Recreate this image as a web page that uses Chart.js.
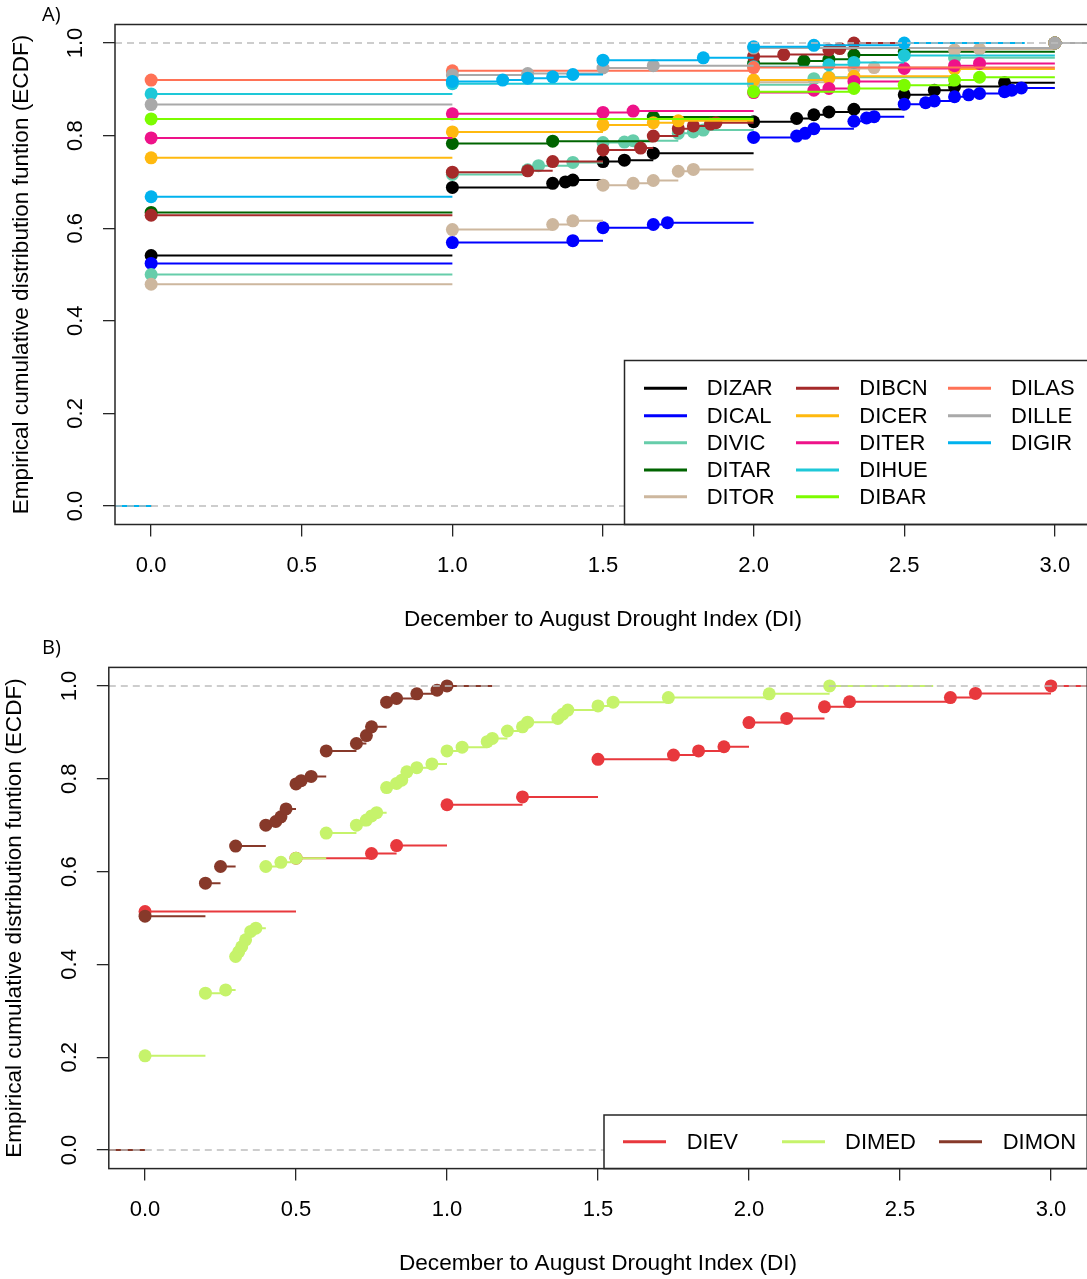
<!DOCTYPE html>
<html>
<head>
<meta charset="utf-8">
<script src="https://cdn.jsdelivr.net/npm/chart.js@4/dist/chart.umd.min.js"></script>
<style>
  html, body { margin: 0; padding: 0; background: #fff; overflow: hidden; }
  #wrap { width: 1087px; height: 1279px; overflow: hidden; }
  canvas { display: block; }
</style>
</head>
<body>
<div id="wrap">
  <canvas id="chartA" width="1100" height="640"></canvas>
  <canvas id="chartB" width="1100" height="639"></canvas>
</div>
<script>
// Axis ticks (shared by both panels)
const xTicks = [0, 0.5, 1, 1.5, 2, 2.5, 3];
const xTickLabels = ["0.0", "0.5", "1.0", "1.5", "2.0", "2.5", "3.0"];
const yTicks = [0, 0.2, 0.4, 0.6, 0.8, 1];
const yTickLabels = ["0.0", "0.2", "0.4", "0.6", "0.8", "1.0"];

// Panel A - stations
const namesA = ["DIZAR", "DICAL", "DIVIC", "DITAR", "DITOR", "DIBCN", "DICER",
  "DITER", "DIHUE", "DIBAR", "DILAS", "DILLE", "DIGIR"];
const colorsA = ["#000000", "#0000FF", "#66CDAA", "#006400", "#CDB79E", "#A52A2A", "#FFB90F",
  "#EE1289", "#1EC8D8", "#7CFC00", "#FF7256", "#A9A9A9", "#00B2EE"];

// jump points (DI value, ECDF value) of each station
const dizarX = [0, 1, 1.333, 1.375, 1.4, 1.5, 1.571, 1.667, 2, 2.143, 2.2, 2.25, 2.333, 2.5, 2.6, 2.667, 2.833, 3];
const dizarY = [0.541, 0.688, 0.697, 0.700, 0.704, 0.744, 0.747, 0.762, 0.830, 0.837, 0.845, 0.851, 0.857, 0.888, 0.898, 0.906, 0.914, 1];
const dicalX = [0, 1, 1.4, 1.5, 1.667, 1.714, 2, 2.143, 2.171, 2.2, 2.333, 2.375, 2.4, 2.5, 2.571, 2.6, 2.667, 2.714, 2.75, 2.833, 2.857, 2.889, 3];
const dicalY = [0.524, 0.569, 0.573, 0.601, 0.608, 0.612, 0.796, 0.799, 0.805, 0.815, 0.831, 0.838, 0.841, 0.868, 0.871, 0.875, 0.884, 0.888, 0.891, 0.895, 0.898, 0.903, 1];
const divicX = [0, 1, 1.25, 1.286, 1.4, 1.5, 1.571, 1.6, 1.75, 1.8, 1.833, 2, 2.2, 2.25, 2.667, 3];
const divicY = [0.500, 0.716, 0.726, 0.735, 0.742, 0.785, 0.786, 0.789, 0.805, 0.808, 0.812, 0.910, 0.923, 0.926, 0.968, 1];
const ditarX = [0, 1, 1.333, 1.667, 2, 2.167, 2.25, 2.333, 2.5, 3];
const ditarY = [0.634, 0.783, 0.788, 0.840, 0.956, 0.961, 0.965, 0.974, 0.981, 1];
const ditorX = [0, 1, 1.333, 1.4, 1.5, 1.6, 1.667, 1.75, 1.8, 2, 2.25, 2.333, 2.4, 2.667, 2.75, 3];
const ditorY = [0.479, 0.597, 0.608, 0.616, 0.693, 0.697, 0.703, 0.723, 0.727, 0.915, 0.924, 0.945, 0.947, 0.985, 0.987, 1];
const dibcnX = [0, 1, 1.25, 1.333, 1.5, 1.625, 1.667, 1.75, 1.8, 1.857, 1.875, 2, 2.1, 2.25, 2.286, 2.333];
const dibcnY = [0.628, 0.721, 0.724, 0.744, 0.769, 0.773, 0.799, 0.815, 0.821, 0.825, 0.828, 0.971, 0.975, 0.985, 0.988, 1];
const dicerX = [0, 1, 1.5, 1.667, 1.75, 2, 2.25, 2.333, 2.667, 3];
const dicerY = [0.752, 0.808, 0.823, 0.828, 0.832, 0.920, 0.925, 0.928, 0.944, 1];
const diterX = [0, 1, 1.5, 1.6, 2, 2.2, 2.25, 2.333, 2.5, 2.667, 2.75, 3];
const diterY = [0.795, 0.847, 0.850, 0.853, 0.893, 0.898, 0.902, 0.917, 0.945, 0.951, 0.956, 1];
const dihueX = [0, 1, 2, 2.25, 2.333, 2.5, 3];
const dihueY = [0.890, 0.912, 0.949, 0.953, 0.958, 0.973, 1];
const dibarX = [0, 2, 2.333, 2.5, 2.667, 2.75, 3];
const dibarY = [0.836, 0.895, 0.902, 0.909, 0.920, 0.926, 1];
const dilasX = [0, 1, 2, 3];
const dilasY = [0.920, 0.940, 0.947, 1];
const dilleX = [0, 1, 1.25, 1.5, 1.667, 2, 3];
const dilleY = [0.867, 0.931, 0.934, 0.946, 0.951, 0.989, 1];
const digirX = [0, 1, 1.167, 1.25, 1.333, 1.4, 1.5, 1.833, 2, 2.2, 2.5];
const digirY = [0.668, 0.917, 0.920, 0.924, 0.927, 0.932, 0.963, 0.968, 0.992, 0.995, 1];
// where the last (ECDF = 1) step of each station stops
const lastStepA = [3.12, 3.12, 3.12, 3.12, 3.12, 2.48, 3.12, 3.12, 3.12, 3.12, 3.12, 3.12, 2.9];

// Panel B - regions
const namesB = ["DIEV", "DIMED", "DIMON"];
const colorsB = ["#E8383D", "#C6F36B", "#87392A"];
const dievX = [0, 0.5, 0.75, 0.833, 1, 1.25, 1.5, 1.75, 1.833, 1.917, 2, 2.125, 2.25, 2.333, 2.667, 2.75, 3];
const dievY = [0.514, 0.629, 0.639, 0.656, 0.744, 0.761, 0.842, 0.851, 0.860, 0.869, 0.921, 0.930, 0.955, 0.966, 0.975, 0.984, 1];
const dimedX = [0, 0.2, 0.267, 0.3, 0.31, 0.32, 0.333, 0.35, 0.367, 0.4, 0.45, 0.5, 0.6, 0.7, 0.733, 0.75, 0.767,
  0.8, 0.833, 0.85, 0.867, 0.9, 0.95, 1, 1.05, 1.133, 1.15, 1.2, 1.25, 1.267, 1.367, 1.383, 1.4, 1.5, 1.55, 1.733, 2.067, 2.267];
const dimedY = [0.203, 0.338, 0.345, 0.417, 0.427, 0.438, 0.453, 0.471, 0.478, 0.611, 0.620, 0.629, 0.683, 0.700, 0.711, 0.720, 0.727,
  0.781, 0.790, 0.797, 0.815, 0.824, 0.832, 0.860, 0.868, 0.880, 0.887, 0.903, 0.912, 0.922, 0.930, 0.939, 0.948, 0.957, 0.965, 0.975, 0.983, 1];
const dimonX = [0, 0.2, 0.25, 0.3, 0.4, 0.433, 0.45, 0.467, 0.5, 0.517, 0.55, 0.6, 0.7, 0.733, 0.75, 0.8, 0.833, 0.9, 0.967, 1];
const dimonY = [0.504, 0.575, 0.611, 0.655, 0.700, 0.708, 0.718, 0.735, 0.789, 0.796, 0.805, 0.860, 0.876, 0.893, 0.912, 0.965, 0.973, 0.983, 0.991, 1];
const lastStepB = [3.12, 2.61, 1.15];

const xMin = -0.12, xMax = 3.12;
const frameColor = "#262626";
const fontFamily = '"Liberation Sans", Arial, sans-serif';

Chart.defaults.font.family = fontFamily;
Chart.defaults.color = "#000";

// horizontal ECDF segments, no verticals; points only on the jumps
const stepData = (xs, ys, xEnd) => {
  const pts = [{ x: xMin, y: 0 }, { x: xs[0], y: 0 }, { x: xs[0], y: null }];
  xs.forEach((x, i) => {
    const next = i < xs.length - 1 ? xs[i + 1] : xEnd;
    pts.push({ x: x, y: ys[i], pt: true }, { x: next, y: ys[i] }, { x: next, y: null });
  });
  return pts;
};

const makeDatasets = (names, colors, xsList, ysList, ends) => {
  const sets = [{
    label: "ref",
    data: [{ x: xMin, y: 0 }, { x: xMax, y: 0 }, { x: xMax, y: null }, { x: xMin, y: 1 }, { x: xMax, y: 1 }],
    borderColor: "#bdbdbd",
    borderDash: [7, 5],
    borderWidth: 1.5,
    pointRadius: 0,
    order: -100,
  }];
  names.forEach((name, i) => {
    sets.push({
      label: name,
      data: stepData(xsList[i], ysList[i], ends[i]),
      borderColor: colors[i],
      backgroundColor: colors[i],
      borderWidth: 2,
      pointRadius: (c) => (c.raw && c.raw.pt ? 6.5 : 0),
      pointBorderWidth: 0,
      pointBackgroundColor: colors[i],
      spanGaps: false,
      order: -i, // later stations are drawn on top, like in R
    });
  });
  return sets;
};

// frame, legend box and panel tag
const ecdfFrame = {
  id: "ecdfFrame",
  afterDatasetsDraw(chart, args, opts) {
    const ctx = chart.ctx, a = chart.chartArea, lg = opts.legend;
    ctx.save();
    ctx.fillStyle = "#fff";
    ctx.fillRect(lg.left, lg.top, chart.width - lg.left, a.bottom - lg.top);
    ctx.strokeStyle = frameColor;
    ctx.lineWidth = 1.5;
    ctx.strokeRect(lg.left, lg.top, chart.width - lg.left + 10, a.bottom - lg.top);
    ctx.font = "22px " + fontFamily;
    ctx.textBaseline = "middle";
    ctx.fillStyle = "#000";
    opts.names.forEach((name, i) => {
      const col = Math.floor(i / lg.rows.length), y = lg.rows[i % lg.rows.length];
      ctx.strokeStyle = opts.colors[i];
      ctx.lineWidth = 3;
      ctx.beginPath();
      ctx.moveTo(lg.lineX[col], y);
      ctx.lineTo(lg.lineX[col] + 43, y);
      ctx.stroke();
      ctx.fillText(name, lg.textX[col], y + 1);
    });
    ctx.strokeStyle = frameColor;
    ctx.lineWidth = 1.5;
    ctx.strokeRect(a.left, a.top, a.right - a.left, a.bottom - a.top);
    ctx.font = '20px "Open Sans", sans-serif';
    ctx.fillText(opts.tag, 42, opts.tagY);
    ctx.restore();
  },
};

const makeOptions = (cfg) => ({
  responsive: false,
  devicePixelRatio: 1,
  animation: false,
  events: [],
  layout: { padding: { top: cfg.top, right: cfg.right, left: 0, bottom: 0 } },
  plugins: {
    legend: { display: false },
    tooltip: { enabled: false },
    ecdfFrame: cfg.frame,
  },
  scales: {
    x: {
      type: "linear",
      min: xMin,
      max: xMax,
      afterBuildTicks: (s) => { s.ticks = xTicks.map((v) => ({ value: v })); },
      afterFit: (s) => { s.height = cfg.bottomH; s.paddingLeft = 0; s.paddingRight = 0; },
      border: { display: false },
      grid: { drawOnChartArea: false, drawTicks: true, tickLength: 12, color: frameColor, lineWidth: 1.3 },
      ticks: {
        autoSkip: false, maxRotation: 0, padding: 16,
        font: { size: 22 }, color: "#000",
        callback: (v, i) => xTickLabels[i],
      },
      title: {
        display: true, text: "December to August Drought Index (DI)",
        font: { size: 22.6 }, color: "#000", padding: { top: 0, bottom: cfg.xTitlePad },
      },
    },
    y: {
      type: "linear",
      min: -0.04,
      max: 1.04,
      afterBuildTicks: (s) => { s.ticks = yTicks.map((v) => ({ value: v })); },
      afterFit: (s) => { s.width = cfg.leftW; s.paddingTop = 0; s.paddingBottom = 0; },
      border: { display: false },
      grid: { drawOnChartArea: false, drawTicks: true, tickLength: 12, color: frameColor, lineWidth: 1.3 },
      ticks: {
        minRotation: 90, maxRotation: 90, crossAlign: "center", padding: 11.5,
        font: { size: 22 }, color: "#000",
        callback: (v, i) => yTickLabels[i],
      },
      title: {
        display: true, text: "Empirical cumulative distribution funtion (ECDF)",
        font: { size: 22.6 }, color: "#000", padding: { top: cfg.yTitlePad, bottom: 0 },
      },
    },
  },
});

new Chart(document.getElementById("chartA"), {
  type: "line",
  data: {
    datasets: makeDatasets(namesA, colorsA,
      [dizarX, dicalX, divicX, ditarX, ditorX, dibcnX, dicerX, diterX, dihueX, dibarX, dilasX, dilleX, digirX],
      [dizarY, dicalY, divicY, ditarY, ditorY, dibcnY, dicerY, diterY, dihueY, dibarY, dilasY, dilleY, digirY],
      lastStepA),
  },
  options: makeOptions({
    top: 24.5, right: 9, bottomH: 115.5, leftW: 115, xTitlePad: 7, yTitlePad: 8,
    frame: {
      names: namesA, colors: colorsA, tag: "A)", tagY: 15,
      legend: { left: 624.5, top: 360.5, rows: [388.3, 415.7, 442.7, 470, 496.7], lineX: [644, 796, 948], textX: [706.7, 859.3, 1011] },
    },
  }),
  plugins: [ecdfFrame],
});

new Chart(document.getElementById("chartB"), {
  type: "line",
  data: {
    datasets: makeDatasets(namesB, colorsB, [dievX, dimedX, dimonX], [dievY, dimedY, dimonY], lastStepB),
  },
  options: makeOptions({
    top: 27.4, right: 12.8, bottomH: 110.4, leftW: 108.8, xTitlePad: 2, yTitlePad: 1,
    frame: {
      names: namesB, colors: colorsB, tag: "B)", tagY: 8,
      legend: { left: 604, top: 475, rows: [501.7], lineX: [623, 782, 939], textX: [686.7, 845, 1002.7] },
    },
  }),
  plugins: [ecdfFrame],
});
</script>
</body>
</html>
